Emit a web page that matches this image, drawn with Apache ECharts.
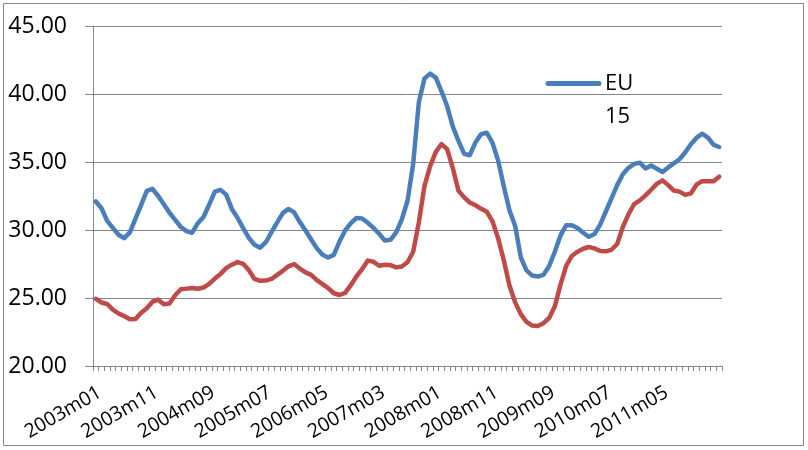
<!DOCTYPE html>
<html>
<head>
<meta charset="utf-8">
<script src="https://cdn.jsdelivr.net/npm/echarts@6/dist/echarts.min.js"></script>
<style>
  html, body { margin: 0; padding: 0; background: #ffffff; }
  #chart { width: 808px; height: 450px; }
</style>
</head>
<body>
<div id="chart"></div>
<script>
// Monthly observations, 2003m01 .. 2012m03
const startYear = 2003;
const monthCount = 111;
const months = [];
for (let k = 0; k < monthCount; k++) {
  const y = startYear + Math.floor(k / 12);
  const m = (k % 12) + 1;
  months.push(y + 'm' + (m < 10 ? '0' + m : m));
}

const eu15 = [
  32.10, 31.60, 30.67, 30.15, 29.65, 29.40, 29.83, 30.84, 31.84, 32.87,
  33.03, 32.50, 31.90, 31.27, 30.75, 30.22, 29.92, 29.80, 30.50, 30.96,
  31.86, 32.82, 32.95, 32.60, 31.55, 30.90, 30.14, 29.42, 28.92, 28.70,
  29.10, 29.84, 30.56, 31.24, 31.55, 31.30, 30.58, 29.96, 29.30, 28.65,
  28.18, 27.98, 28.17, 29.15, 29.97, 30.50, 30.88, 30.85, 30.53, 30.15,
  29.72, 29.23, 29.28, 29.82, 30.78, 32.13, 34.86, 39.40, 41.15, 41.50,
  41.20, 40.20, 39.10, 37.60, 36.55, 35.60, 35.50, 36.45, 37.05, 37.15,
  36.40, 35.10, 33.20, 31.44, 30.30, 27.98, 27.03, 26.65, 26.58, 26.70,
  27.35, 28.40, 29.60, 30.35, 30.35, 30.15, 29.80, 29.50, 29.70, 30.40,
  31.36, 32.33, 33.30, 34.10, 34.57, 34.86, 34.95, 34.52, 34.74, 34.50,
  34.27, 34.60, 34.90, 35.20, 35.70, 36.30, 36.77, 37.08, 36.80, 36.28,
  36.10
];

const series2 = [
  24.93, 24.67, 24.56, 24.14, 23.86, 23.67, 23.44, 23.45, 23.92, 24.25,
  24.73, 24.88, 24.54, 24.60, 25.20, 25.64, 25.69, 25.73, 25.68, 25.77,
  26.04, 26.43, 26.77, 27.20, 27.45, 27.64, 27.51, 27.05, 26.40, 26.26,
  26.28, 26.40, 26.70, 27.00, 27.33, 27.50, 27.16, 26.88, 26.70, 26.31,
  26.02, 25.73, 25.35, 25.22, 25.38, 25.94, 26.60, 27.13, 27.75, 27.66,
  27.37, 27.45, 27.42, 27.25, 27.32, 27.63, 28.40, 30.56, 33.24, 34.70,
  35.74, 36.32, 35.94, 34.54, 32.88, 32.40, 32.02, 31.82, 31.56, 31.34,
  30.64, 29.38, 27.77, 25.90, 24.68, 23.81, 23.25, 22.97, 22.94, 23.15,
  23.53, 24.39, 25.98, 27.36, 28.09, 28.40, 28.62, 28.75, 28.65, 28.45,
  28.43, 28.55, 28.97, 30.22, 31.17, 31.91, 32.18, 32.54, 32.96, 33.39,
  33.65, 33.30, 32.90, 32.82, 32.58, 32.69, 33.33, 33.59, 33.58, 33.58,
  33.92
];

const yMin = 20, yMax = 45, yStep = 5;
const labelEvery = 10, lastLabelIndex = 100;
const legendText = 'EU\n15';

const gridGray = '#868686';
const blue = '#4A7EBB';
const red = '#BE4B48';
const fontFamily = '"Open Sans", "Noto Sans", sans-serif';

const chart = echarts.init(document.getElementById('chart'), null, { renderer: 'canvas' });

chart.setOption({
  backgroundColor: '#ffffff',
  animation: false,
  graphic: [
    {
      // chart area frame
      type: 'rect',
      shape: { x: 3.5, y: 3.5, width: 800, height: 442 },
      style: { fill: 'none', stroke: gridGray, lineWidth: 1 },
      silent: true
    },
    {
      // legend key for the EU 15 line
      type: 'line',
      shape: { x1: 548, y1: 83.5, x2: 599, y2: 83.5 },
      style: { stroke: blue, lineWidth: 5, lineCap: 'round' },
      silent: true
    },
    {
      type: 'text',
      left: 605,
      top: 67,
      style: {
        text: legendText,
        font: '22px ' + fontFamily,
        lineHeight: 33,
        fill: '#000000'
      },
      silent: true
    }
  ],
  grid: { left: 93, right: 86, top: 26, bottom: 84, containLabel: false },
  xAxis: {
    type: 'category',
    data: months,
    boundaryGap: true,
    axisLine: { show: true, lineStyle: { color: gridGray, width: 1 } },
    axisTick: { show: true, interval: 0, length: 5, lineStyle: { color: gridGray } },
    axisLabel: {
      interval: function (i) { return i % labelEvery === 0 && i <= lastLabelIndex; },
      rotate: 30,
      margin: 16,
      align: 'right',
      verticalAlign: 'top',
      padding: [0, 1, 0, 0],
      fontFamily: fontFamily,
      fontSize: 19.5,
      color: '#000000'
    },
    splitLine: { show: false }
  },
  yAxis: {
    type: 'value',
    min: yMin,
    max: yMax,
    interval: yStep,
    axisLine: { show: true, lineStyle: { color: gridGray, width: 1 } },
    axisTick: { show: true, inside: false, length: 8, lineStyle: { color: gridGray } },
    axisLabel: {
      margin: 26,
      fontFamily: fontFamily,
      fontSize: 23,
      color: '#000000',
      formatter: function (v) { return v.toFixed(2); }
    },
    splitLine: { show: true, lineStyle: { color: gridGray, width: 1 } }
  },
  series: [
    {
      name: 'EU 15',
      type: 'line',
      data: eu15,
      symbol: 'none',
      lineStyle: { color: blue, width: 4.5, cap: 'round', join: 'round' },
      itemStyle: { color: blue },
      z: 3
    },
    {
      name: 'Series 2',
      type: 'line',
      data: series2,
      symbol: 'none',
      lineStyle: { color: red, width: 4.5, cap: 'round', join: 'round' },
      itemStyle: { color: red },
      z: 2
    }
  ]
});
</script>
</body>
</html>
